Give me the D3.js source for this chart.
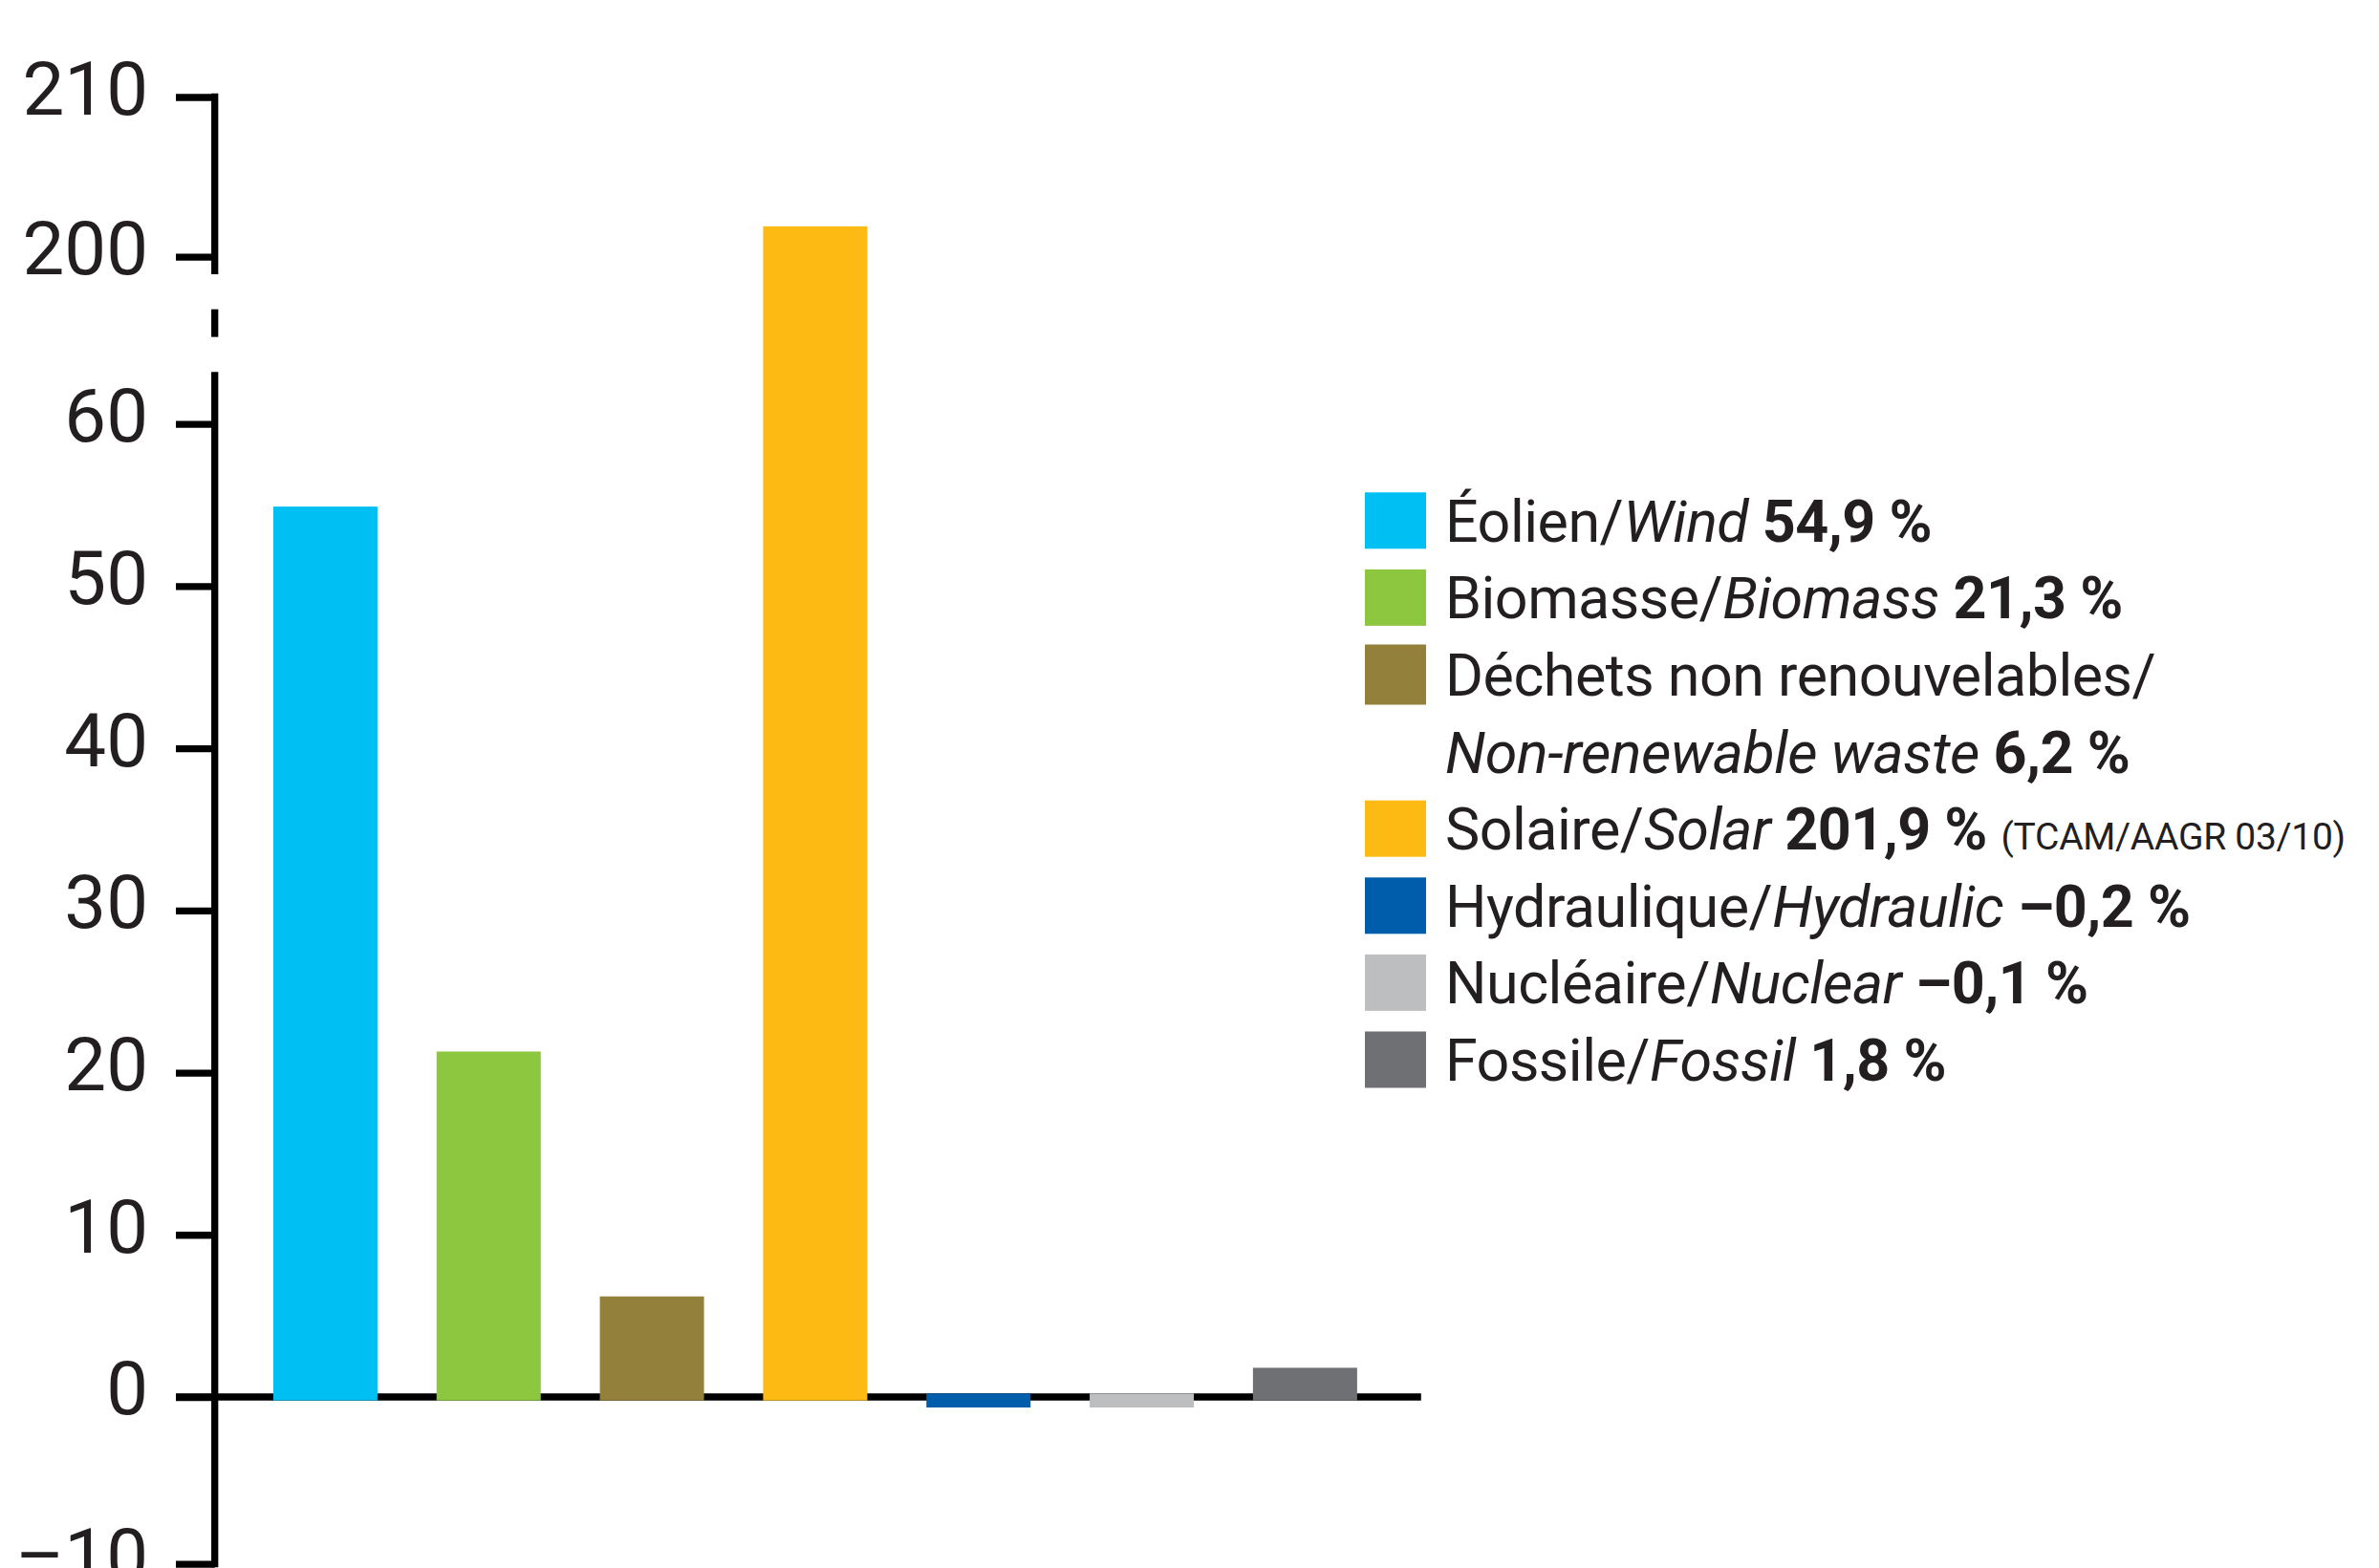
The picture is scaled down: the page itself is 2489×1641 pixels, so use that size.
<!DOCTYPE html>
<html>
<head>
<meta charset="utf-8">
<script src="https://cdn.jsdelivr.net/npm/d3@7"></script>
<style>
  html, body { margin: 0; padding: 0; background: #ffffff; }
  svg { display: block; }
</style>
</head>
<body>
<svg id="chart" width="2489" height="1641"></svg>
<script>
// ---------- data ----------
const categoriesFr = ["Éolien", "Biomasse", "Déchets non renouvelables", "Solaire", "Hydraulique", "Nucléaire", "Fossile"];
const categoriesEn = ["Wind", "Biomass", "Non-renewable waste", "Solar", "Hydraulic", "Nuclear", "Fossil"];
const values = [54.9, 21.3, 6.2, 201.9, -0.2, -0.1, 1.8];
const valueLabels = ["54,9 %", "21,3 %", "6,2 %", "201,9 %", "–0,2 %", "–0,1 %", "1,8 %"];
const colors = ["#00bff3", "#8dc63f", "#93803a", "#fdba12", "#005dab", "#bdbec0", "#6f7074"];
const notes = ["", "", "", "(TCAM/AAGR 03/10)", "", "", ""];
const lowerTicks = [-10, 0, 10, 20, 30, 40, 50, 60];
const upperTicks = [200, 210];
const tickLabel = v => (v < 0 ? "–" + Math.abs(v) : String(v));

// ---------- layout ----------
const W = 2489, H = 1641;
const ink = "#231f20";
const axisW = 7.3;
const axisX = 224.7;
const breakLow = 63.2, breakHigh = 198.9;
const minNegDepth = 11;

const svg = d3.select("#chart");
svg.append("rect").attr("width", W).attr("height", H).attr("fill", "#fff");

const x = d3.scaleBand()
  .domain(categoriesEn)
  .range([255, 1450.8])
  .paddingInner(0.362)
  .paddingOuter(0.181);

const y = d3.scaleLinear()
  .domain([-10, 0, breakLow, breakHigh, 210])
  .range([1636.7, 1462, 389.3, 287, 101.5]);

// ---------- y axis (broken) ----------
const yAxisG = svg.append("g").attr("transform", `translate(${axisX},0)`);
const axisL = d3.axisLeft(y).tickValues(lowerTicks.concat(upperTicks))
  .tickSize(40.7).tickPadding(29).tickFormat(tickLabel);
yAxisG.call(axisL);
yAxisG.select(".domain").remove();
yAxisG.selectAll(".tick line").attr("stroke", "#000").attr("stroke-width", axisW);
yAxisG.selectAll(".tick text")
  .attr("fill", ink)
  .attr("font-family", "Roboto, 'Open Sans', sans-serif")
  .attr("font-size", 78)
  .attr("dy", "0.23em");

// axis segments
const segs = [
  [y(210) - axisW / 2, y(breakHigh)],
  [(y(breakHigh) + y(breakLow)) / 2 - 14.5, (y(breakHigh) + y(breakLow)) / 2 + 14.5],
  [y(breakLow), y(-10) + axisW / 2]
];
yAxisG.selectAll("line.seg").data(segs).join("line")
  .attr("class", "seg")
  .attr("x1", 0).attr("x2", 0)
  .attr("y1", d => d[0]).attr("y2", d => d[1])
  .attr("stroke", "#000").attr("stroke-width", axisW);

// ---------- x axis line at zero ----------
svg.append("line")
  .attr("x1", axisX - 40.7).attr("x2", x.range()[1] + 36)
  .attr("y1", y(0)).attr("y2", y(0))
  .attr("stroke", "#000").attr("stroke-width", axisW);

// ---------- bars ----------
svg.append("g").selectAll("rect").data(values).join("rect")
  .attr("x", (d, i) => x(categoriesEn[i]))
  .attr("width", x.bandwidth())
  .attr("y", d => d >= 0 ? y(d) : y(0) - axisW / 2)
  .attr("height", d => d >= 0
      ? (y(0) + axisW / 2) - y(d)
      : Math.max(y(d), y(0) + minNegDepth) - (y(0) - axisW / 2))
  .attr("fill", (d, i) => colors[i]);

// ---------- legend ----------
const legX = 1428, swW = 64, swH = 59, textX = 1512;
const firstCenter = 544.8, pitch = 80.6;
const fontSize = 61;
const leg = svg.append("g")
  .attr("font-family", "Roboto, 'Open Sans', sans-serif")
  .attr("font-size", fontSize)
  .attr("letter-spacing", -0.5)
  .attr("fill", ink);

let line = 0;
categoriesFr.forEach((fr, i) => {
  const full = fr + "/" + categoriesEn[i] + " " + valueLabels[i];
  const wrap = full.length > 40;
  const cy = firstCenter + line * pitch;
  const nLines = wrap ? 2 : 1;
  const sh = wrap ? 63 : swH;
  leg.append("rect")
    .attr("x", legX)
    .attr("y", cy - sh / 2)
    .attr("width", swW)
    .attr("height", sh)
    .attr("fill", colors[i]);

  const t = leg.append("text").attr("x", textX).attr("y", cy + 22);
  if (wrap) {
    t.append("tspan").text(fr + "/");
    const t2 = leg.append("text").attr("x", textX).attr("y", cy + pitch + 22);
    t2.append("tspan").attr("font-style", "italic").text(categoriesEn[i]);
    t2.append("tspan").text(" ");
    t2.append("tspan").attr("font-weight", "bold").text(valueLabels[i]);
  } else {
    t.append("tspan").text(fr + "/");
    t.append("tspan").attr("font-style", "italic").text(categoriesEn[i]);
    t.append("tspan").text(" ");
    t.append("tspan").attr("font-weight", "bold").text(valueLabels[i]);
    if (notes[i]) {
      t.append("tspan").text(" ");
      t.append("tspan").attr("font-size", 39).attr("letter-spacing", -0.3).text(notes[i]);
    }
  }
  line += nLines;
});
</script>
</body>
</html>
